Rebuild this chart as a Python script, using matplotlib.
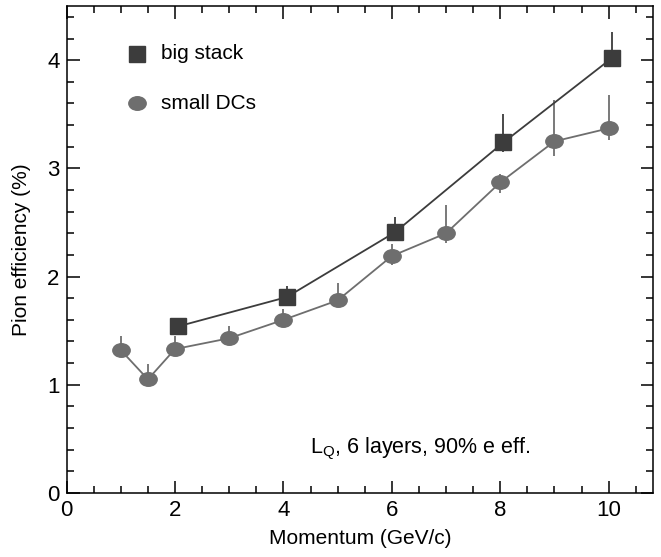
import numpy as np
import matplotlib.pyplot as plt
from matplotlib.path import Path
from matplotlib.transforms import Affine2D

plt.rcParams["font.family"] = ["Liberation Sans", "DejaVu Sans"]

# big stack
big_x = np.array([2.06, 4.06, 6.06, 8.06, 10.06])
big_y = np.array([1.54, 1.81, 2.41, 3.24, 4.02])
big_lo = np.array([1.48, 1.76, 2.35, 3.15, 3.94])
big_hi = np.array([1.62, 1.91, 2.55, 3.50, 4.26])

# small DCs
small_x = np.array([1.0, 1.5, 2.0, 3.0, 4.0, 5.0, 6.0, 7.0, 8.0, 9.0, 10.0])
small_y = np.array([1.32, 1.05, 1.33, 1.43, 1.60, 1.78, 2.19, 2.40, 2.87, 3.25, 3.37])
small_lo = np.array([1.27, 0.99, 1.28, 1.38, 1.55, 1.72, 2.11, 2.31, 2.77, 3.11, 3.26])
small_hi = np.array([1.45, 1.19, 1.45, 1.54, 1.70, 1.94, 2.30, 2.66, 2.95, 3.63, 3.68])

ellipse = Path.unit_circle().transformed(Affine2D().scale(1.0, 0.78))

figure = plt.figure(figsize=(6.61, 5.57), dpi=100)
axes = figure.add_axes([0.1008, 0.115, 0.8872, 0.874])

dark = "#3c3c3c"
grey = "#6e6e6e"

axes.errorbar(small_x, small_y, yerr=[small_y - small_lo, small_hi - small_y],
              fmt="none", ecolor=grey, elinewidth=1.3, capsize=0, zorder=2)
axes.plot(small_x, small_y, color=grey, linewidth=1.3, zorder=2)
axes.plot(small_x, small_y, linestyle="none", marker=ellipse, markersize=12.5,
          color=grey, mec=grey, zorder=3)

axes.errorbar(big_x, big_y, yerr=[big_y - big_lo, big_hi - big_y],
              fmt="none", ecolor=dark, elinewidth=1.3, capsize=0, zorder=4)
axes.plot(big_x, big_y, color=dark, linewidth=1.3, zorder=4)
axes.plot(big_x, big_y, linestyle="none", marker="s", markersize=11.5,
          color=dark, mec=dark, zorder=5)

# legend drawn by hand
axes.plot([1.3], [4.06], marker="s", markersize=11.5, color=dark, linestyle="none")
axes.text(1.74, 4.06, "big stack", fontsize=15, va="center")
axes.plot([1.3], [3.6], marker=ellipse, markersize=12.5, color=grey, linestyle="none")
axes.text(1.74, 3.6, "small DCs", fontsize=15, va="center")

axes.text(4.49, 0.41, r"L$_\mathregular{Q}$, 6 layers, 90% e eff.", fontsize=15.5, va="center")

axes.set_xlim(0, 10.82)
axes.set_ylim(0, 4.5)
axes.set_xticks(np.arange(0, 11, 2))
axes.set_xticks(np.arange(0, 10.9, 0.5), minor=True)
axes.set_yticks(np.arange(0, 4.1, 1))
axes.set_yticks(np.arange(0, 4.5, 0.2), minor=True)
axes.tick_params(which="both", direction="in", top=True, right=True, labelsize=16, width=1.1, pad=5)
axes.tick_params(which="major", length=9)
axes.tick_params(which="minor", length=5)
for s in axes.spines.values():
    s.set_linewidth(1.1)

axes.set_xlabel("Momentum (GeV/c)", fontsize=15, labelpad=6)
axes.set_ylabel("Pion efficiency (%)", fontsize=15, labelpad=12)

figure.savefig("out.png")
